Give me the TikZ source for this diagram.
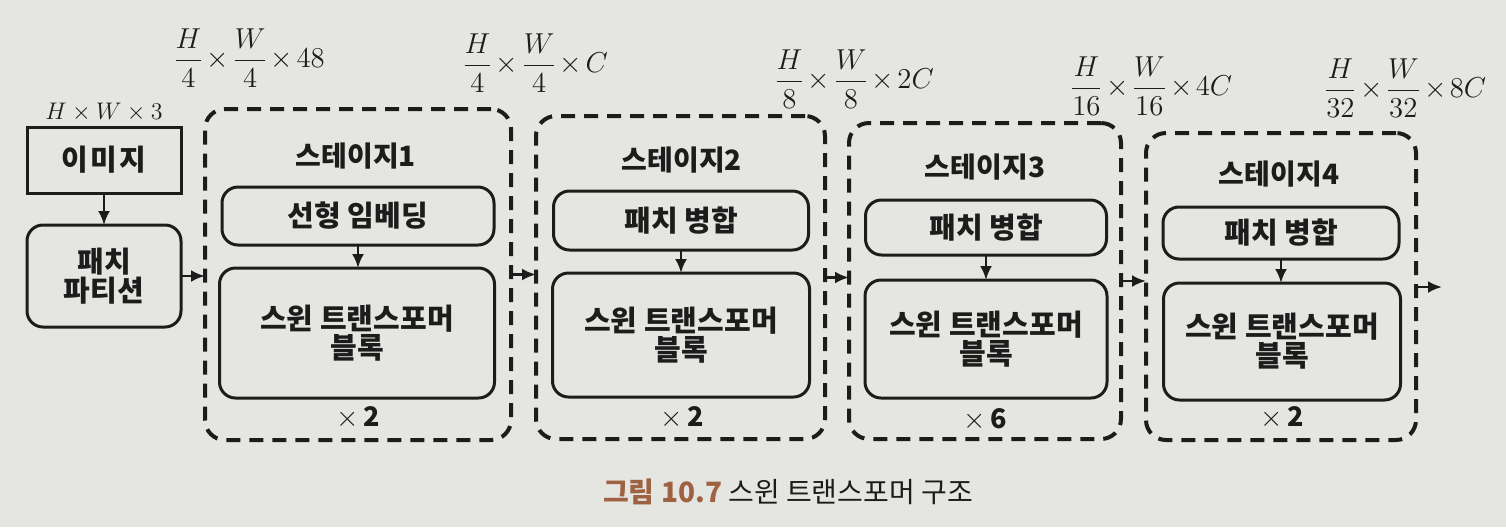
\documentclass[tikz,border=0pt]{standalone}
\usepackage{amsmath}
\usepackage{fontspec}
\newfontfamily\kr{Noto Sans CJK KR}
\usetikzlibrary{arrows.meta}
\definecolor{paper}{RGB}{229,229,225}
\definecolor{ink}{RGB}{28,28,28}
\definecolor{capbrown}{RGB}{158,98,66}
\newcommand{\tmx}{\mskip2mu{\times}\mskip2mu}
\begin{document}
\begin{tikzpicture}[x=0.5pt,y=-0.5pt,
  every node/.style={inner sep=0pt, outer sep=0pt, text=ink},
  stagebox/.style={draw=ink, line width=2pt, dash pattern=on 7pt off 4.5pt, rounded corners=10pt},
  blockbox/.style={draw=ink, line width=1.5pt, rounded corners=8pt, align=center,
    font=\kr\bfseries\fontsize{14.5}{14.5}\selectfont},
  imgbox/.style={draw=ink, line width=1.5pt, align=center,
    font=\kr\bfseries\fontsize{14.5}{14.5}\selectfont},
  stagetitle/.style={font=\kr\bfseries\fontsize{14}{15}\selectfont},
  repeatlbl/.style={font=\kr\bfseries\fontsize{13.5}{15}\selectfont},
  dimlbl/.style={font=\fontsize{14}{16}\selectfont},
  smalldim/.style={font=\fontsize{12.5}{14}\selectfont},
  arr/.style={draw=ink, line width=1.3pt, -{Latex[length=7pt,width=6pt]}},
]
\useasboundingbox[fill=paper] (0,0) rectangle (1506,527);

% input
\node[smalldim] (dim0) at (104,112) {$H\times W\times 3$};
\node[imgbox, minimum width=77pt, minimum height=33pt] (img) at (104,160) {이\kern1pt 미\kern1pt 지};
\node[blockbox, minimum width=77pt, minimum height=51pt] (pp) at (104,276) {패치\\파티션};
\draw[arr] (img.south) -- (pp.north);

% stage 1
\node[stagebox, minimum width=153pt, minimum height=165.5pt] (s1) at (358,274.5) {};
\node[stagetitle] (t1) at (356,156) {스테이지1};
\node[blockbox, minimum width=136pt, minimum height=29pt] (le) at (358,216) {선형 임베딩};
\node[blockbox, minimum width=137.5pt, minimum height=65pt] (sw1) at (357,333) {스윈 트랜스포머\\블록};
\node[repeatlbl] (r1) at (358,418) {$\times$\,2};
\draw[arr] (le.south) -- (le.south |- sw1.north);
\node[dimlbl] (dim1) at (249,58) {$\dfrac{H}{4}\tmx\dfrac{W}{4}\tmx 48$};

% stage 2
\node[stagebox, minimum width=144.5pt, minimum height=161.5pt] (s2) at (680.5,277.5) {};
\node[stagetitle] (t2) at (682,160) {스테이지2};
\node[blockbox, minimum width=127.5pt, minimum height=29.5pt] (pm2) at (681,220.5) {패치 병합};
\node[blockbox, minimum width=128.5pt, minimum height=62pt] (sw2) at (681,335) {스윈 트랜스포머\\블록};
\node[repeatlbl] (r2) at (682,418) {$\times$\,2};
\draw[arr] (pm2.south) -- (pm2.south |- sw2.north);
\node[dimlbl] (dim2) at (535,63) {$\dfrac{H}{4}\tmx\dfrac{W}{4}\tmx C$};

% stage 3
\node[stagebox, minimum width=136pt, minimum height=158pt] (s3) at (985,281) {};
\node[stagetitle] (t3) at (985,167) {스테이지3};
\node[blockbox, minimum width=120.5pt, minimum height=27.5pt] (pm3) at (986,227.5) {패치 병합};
\node[blockbox, minimum width=121pt, minimum height=59pt] (sw3) at (986,339) {스윈 트랜스포머\\블록};
\node[repeatlbl] (r3) at (985,420) {$\times$\,6};
\draw[arr] (pm3.south) -- (pm3.south |- sw3.north);
\node[dimlbl] (dim3) at (854,79) {$\dfrac{H}{8}\tmx\dfrac{W}{8}\tmx 2C$};

% stage 4
\node[stagebox, minimum width=135pt, minimum height=153.5pt] (s4) at (1281,286.5) {};
\node[stagetitle] (t4) at (1279,174) {스테이지4};
\node[blockbox, minimum width=118pt, minimum height=26pt] (pm4) at (1281,233) {패치 병합};
\node[blockbox, minimum width=118.5pt, minimum height=58.5pt] (sw4) at (1282,341.5) {스윈 트랜스포머\\블록};
\node[repeatlbl] (r4) at (1282,418) {$\times$\,2};
\draw[arr] (pm4.south) -- (pm4.south |- sw4.north);
\node[dimlbl] (dim4) at (1151,86) {$\dfrac{H}{16}\tmx\dfrac{W}{16}\tmx 4C$};
\node[dimlbl] (dim5) at (1405,88) {$\dfrac{H}{32}\tmx\dfrac{W}{32}\tmx 8C$};

% connectors between stages
\draw[arr] (pp.east) -- (pp.east -| s1.west);
\draw[arr] (s1.east) -- (s1.east -| s2.west);
\draw[arr] (s2.east) -- (s2.east -| s3.west);
\draw[arr] (s3.east) -- (s3.east -| s4.west);
\coordinate (out) at (1442,287);
\draw[arr] (s4.east |- out) -- (out);

% caption
\node[font=\kr\fontsize{14}{16}\selectfont] (cap) at (788,492)
  {{\bfseries\color{capbrown}그림 10.7}\ 스윈 트랜스포머 구조};
\end{tikzpicture}
\end{document}
